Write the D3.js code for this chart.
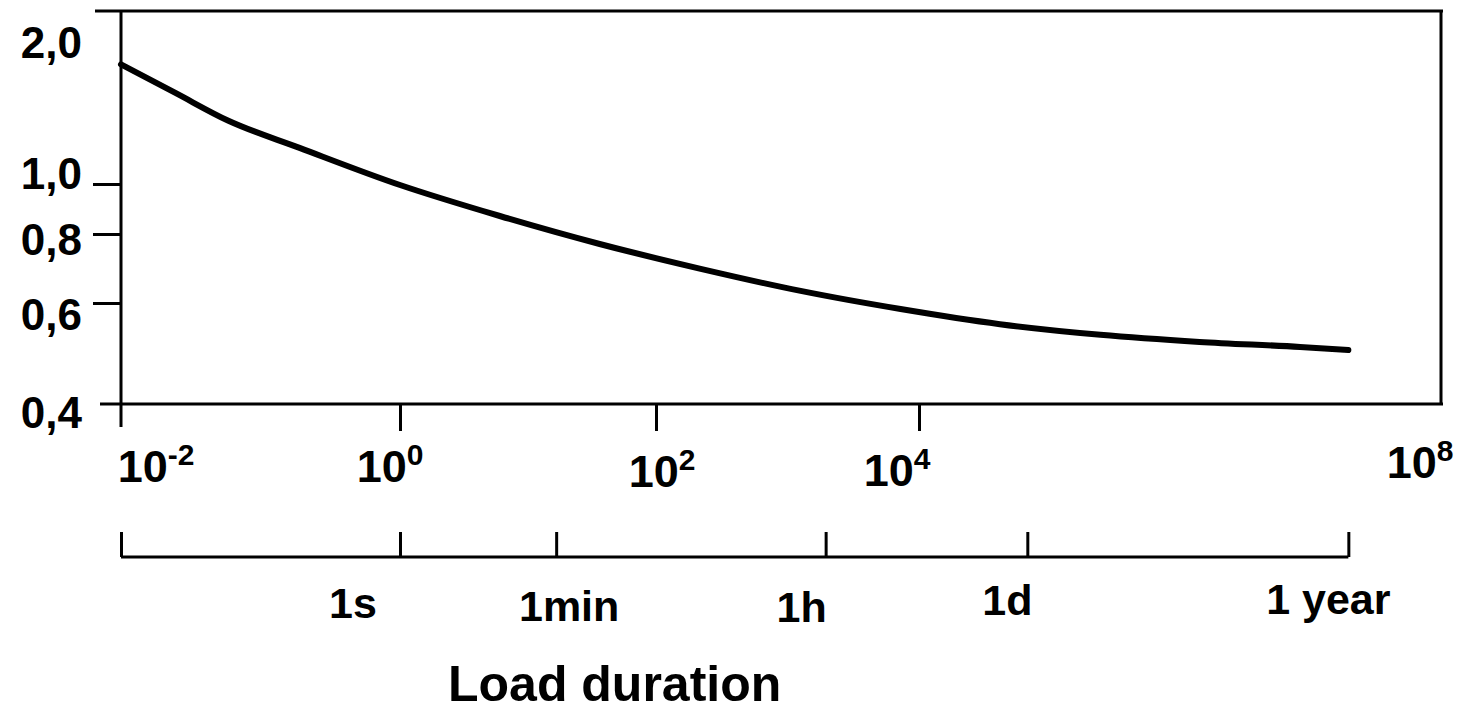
<!DOCTYPE html>
<html>
<head>
<meta charset="utf-8">
<script src="https://cdn.jsdelivr.net/npm/d3@7"></script>
<style>
  body { margin: 0; background: #fff; }
  text { font-family: Arial, "Liberation Sans", sans-serif; font-weight: bold; fill: #000; }
</style>
</head>
<body>
<div id="drawing"></div>
<script>
// chart values
// x is the log10 of the load duration (s), y is the strength factor
const xTickExps = [-2, 0, 2, 4, 8];
const xTickSup = ["-2", "0", "2", "4", "8"];
const yTickValues = [0.4, 0.6, 0.8, 1.0, 2.0];
const yTickLabels = ["0,4", "0,6", "0,8", "1,0", "2,0"];

const curveExps = [-2, -1.61, -1.23, -0.72, 0, 0.78, 1.56, 2.34, 3.1, 3.86, 4.62, 5.39, 6.15, 6.92, 7.29];
const curveVals = [1.86, 1.655, 1.455, 1.26, 0.996, 0.872, 0.771, 0.699, 0.635, 0.588, 0.558, 0.537, 0.523, 0.513, 0.507];

// time units as drawn on the lower scale (same log axis)
const unitLabels = ["1s", "1min", "1h", "1d", "1 year"];
const unitExps = [0, 1.22, 3.29, 4.83, 7.29];

const xAxisTitle = "Load duration";

const width = 1459;
const height = 712;
const frameTop = 11;

// the drawing is hand made, so the decades are not quite even
const x = d3.scaleLinear().domain(xTickExps).range([121, 400, 656, 919, 1441]);
const y = d3.scaleLinear().domain(yTickValues).range([404, 303, 234, 184, 45]);

// label nudges (hand placed in the original)
const xLabelShift = [[35, 78], [-10, 78], [6, 83], [-22, 82], [-21, 74]];
const yLabelShift = [24, 27, 21, 5, 13];
const unitLabelShift = [[-47, 61], [13, 64], [-24, 65], [-20, 58], [-20, 57]];
const unitAxisY = 557;

const svg = d3.select("#drawing").append("svg")
  .attr("width", width)
  .attr("height", height)
  .style("background", "#fff");

const x0 = x(-2), x1 = x(8), yb = y(0.4);

// frame
svg.append("path")
  .attr("d", `M95,${frameTop}H${x1 + 2} M${x0},${frameTop}V${yb + 23} M${x1},${frameTop}V${yb} M100,${yb}H${x1 + 2}`)
  .attr("fill", "none")
  .attr("stroke", "#000")
  .attr("stroke-width", 3);

// y ticks
const yAxis = svg.append("g")
  .attr("transform", `translate(${x0},0)`)
  .call(d3.axisLeft(y).tickValues([0.6, 0.8, 1.0]).tickSize(28).tickFormat(""));
yAxis.select(".domain").remove();
yAxis.selectAll("line").attr("stroke-width", 3);

svg.selectAll(".ylab")
  .data(yTickValues)
  .enter()
  .append("text")
    .attr("class", "ylab")
    .attr("x", 82)
    .attr("y", (d, i) => y(d) + yLabelShift[i])
    .attr("text-anchor", "end")
    .style("font-size", "44px")
    .text((d, i) => yTickLabels[i]);

// x ticks
const xAxis = svg.append("g")
  .attr("transform", `translate(0,${yb})`)
  .call(d3.axisBottom(x).tickValues([0, 2, 4]).tickSize(27).tickFormat(""));
xAxis.select(".domain").remove();
xAxis.selectAll("line").attr("stroke-width", 3);

const xLab = svg.selectAll(".xlab")
  .data(xTickExps)
  .enter()
  .append("text")
    .attr("class", "xlab")
    .attr("x", (d, i) => x(d) + xLabelShift[i][0])
    .attr("y", (d, i) => yb + xLabelShift[i][1])
    .attr("text-anchor", "middle")
    .style("font-size", "45px");
xLab.append("tspan").text("10");
xLab.append("tspan")
  .attr("dy", -17)
  .style("font-size", "30px")
  .text((d, i) => xTickSup[i]);

// curve
const line = d3.line()
  .x(d => x(d[0]))
  .y(d => y(d[1]))
  .curve(d3.curveMonotoneX);

svg.append("path")
  .datum(d3.zip(curveExps, curveVals))
  .attr("d", line)
  .attr("fill", "none")
  .attr("stroke", "#000")
  .attr("stroke-width", 6)
  .attr("stroke-linecap", "round")
  .attr("stroke-linejoin", "round");

// lower scale with time units
const unitAxis = svg.append("g")
  .attr("transform", `translate(0,${unitAxisY})`)
  .call(d3.axisTop(x).tickValues([-2].concat(unitExps)).tickSize(25).tickFormat(""));
unitAxis.select(".domain").remove();
unitAxis.selectAll("line").attr("stroke-width", 3);
unitAxis.append("line")
  .attr("x1", x0)
  .attr("x2", x(unitExps[unitExps.length - 1]))
  .attr("stroke", "#000")
  .attr("stroke-width", 3);

svg.selectAll(".ulab")
  .data(unitExps)
  .enter()
  .append("text")
    .attr("class", "ulab")
    .attr("x", (d, i) => x(d) + unitLabelShift[i][0])
    .attr("y", (d, i) => unitAxisY + unitLabelShift[i][1])
    .attr("text-anchor", "middle")
    .style("font-size", "43px")
    .text((d, i) => unitLabels[i]);

svg.append("text")
  .attr("x", 448)
  .attr("y", 701)
  .style("font-size", "50px")
  .text(xAxisTitle);
</script>
</body>
</html>
